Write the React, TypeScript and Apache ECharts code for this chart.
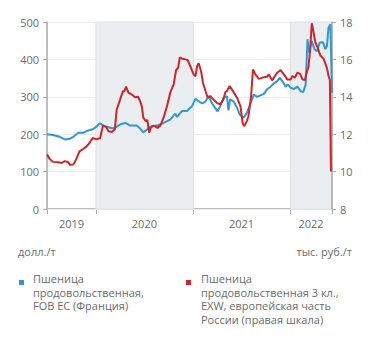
import React, { useEffect, useRef } from 'react';
import * as echarts from 'echarts';

// Пшеница продовольственная, FOB ЕС (Франция), долл./т
const blueDates = [
  '2019-07-01', '2019-07-23', '2019-08-18', '2019-09-06', '2019-09-25', '2019-10-08', '2019-10-27',
  '2019-11-15', '2019-12-03', '2019-12-22', '2020-01-04', '2020-01-16', '2020-01-29', '2020-02-11',
  '2020-03-01', '2020-03-12', '2020-03-25', '2020-04-07', '2020-04-23', '2020-05-08', '2020-06-02',
  '2020-06-15', '2020-06-27', '2020-07-10', '2020-07-22', '2020-08-16', '2020-09-11', '2020-10-06',
  '2020-10-25', '2020-11-01', '2020-11-19', '2020-12-08', '2020-12-27', '2021-01-09', '2021-01-21',
  '2021-02-03', '2021-02-16', '2021-02-28', '2021-03-11', '2021-03-23', '2021-04-02', '2021-04-12',
  '2021-04-24', '2021-05-07', '2021-05-13', '2021-05-19', '2021-06-01', '2021-06-14', '2021-06-24',
  '2021-07-09', '2021-07-21', '2021-08-03', '2021-08-16', '2021-08-29', '2021-09-10', '2021-09-23',
  '2021-10-05', '2021-10-18', '2021-10-31', '2021-11-12', '2021-11-22', '2021-12-01', '2021-12-14',
  '2021-12-22', '2022-01-02', '2022-01-14', '2022-01-27', '2022-02-08', '2022-02-18', '2022-02-27',
  '2022-03-06', '2022-03-12', '2022-03-22', '2022-04-01', '2022-04-11', '2022-04-21', '2022-05-03',
  '2022-05-12', '2022-05-18', '2022-05-24', '2022-05-31', '2022-06-06',
];
const blueValues = [
  200, 198, 193, 186, 188, 193, 204,
  204, 210, 214, 221, 229, 223, 220,
  216, 217, 223, 228, 230, 223, 223,
  215, 205, 212, 220, 223, 230, 239,
  255, 246, 262, 262, 275, 295, 288,
  282, 288, 302, 284, 271, 261, 275,
  297, 302, 264, 293, 288, 271, 253,
  244, 257, 280, 306, 300, 304, 308,
  320, 327, 336, 342, 351, 342, 327,
  333, 324, 321, 327, 315, 313, 333,
  454, 418, 449, 427, 422, 445, 446,
  427, 436, 485, 494, 311,
];

// Пшеница продовольственная 3 кл., EXW, европейская часть России, тыс. руб./т
const redDates = [
  '2019-07-01', '2019-07-11', '2019-07-23', '2019-08-12', '2019-08-25', '2019-09-06', '2019-09-19',
  '2019-09-25', '2019-10-08', '2019-10-18', '2019-10-31', '2019-11-15', '2019-11-28', '2019-12-10',
  '2019-12-20', '2020-01-02', '2020-01-17', '2020-01-27', '2020-02-09', '2020-02-17', '2020-03-01',
  '2020-03-12', '2020-03-19', '2020-04-01', '2020-04-11', '2020-04-17', '2020-04-23', '2020-05-02',
  '2020-05-15', '2020-05-27', '2020-06-07', '2020-06-15', '2020-06-21', '2020-06-27', '2020-07-06',
  '2020-07-12', '2020-07-19', '2020-07-25', '2020-08-02', '2020-08-11', '2020-08-19', '2020-08-30',
  '2020-09-11', '2020-09-24', '2020-10-06', '2020-10-19', '2020-10-28', '2020-11-05', '2020-11-11',
  '2020-11-20', '2020-12-02', '2020-12-11', '2021-01-02', '2021-01-09', '2021-01-15', '2021-01-21',
  '2021-01-30', '2021-02-06', '2021-02-16', '2021-02-24', '2021-03-05', '2021-03-17', '2021-03-30',
  '2021-04-12', '2021-04-24', '2021-05-01', '2021-05-07', '2021-05-17', '2021-05-30', '2021-06-14',
  '2021-06-27', '2021-07-05', '2021-07-11', '2021-07-21', '2021-07-27', '2021-08-06', '2021-08-13',
  '2021-08-22', '2021-09-04', '2021-09-23', '2021-10-05', '2021-10-11', '2021-10-24', '2021-11-12',
  '2021-11-25', '2021-12-07', '2021-12-20', '2022-01-02', '2022-01-08', '2022-01-17', '2022-01-27',
  '2022-02-06', '2022-02-15', '2022-02-24', '2022-03-01', '2022-03-10', '2022-03-16', '2022-03-22',
  '2022-03-29', '2022-04-04', '2022-04-13', '2022-04-23', '2022-05-05', '2022-05-18', '2022-05-24',
  '2022-05-29', '2022-06-02',
];
const redValues = [
  10.92, 10.68, 10.52, 10.5, 10.46, 10.56, 10.5,
  10.36, 10.38, 10.64, 11.08, 11.22, 11.36, 11.58,
  11.8, 11.72, 11.8, 12.46, 12.38, 12.16, 12.12,
  12.26, 13.32, 13.86, 14.3, 14.3, 14.54, 14.22,
  14.12, 13.98, 14.0, 13.76, 13.5, 12.88, 12.7,
  12.76, 12.08, 12.34, 12.46, 12.42, 12.34, 12.46,
  12.88, 13.5, 14.22, 14.66, 15.42, 15.56, 16.1,
  16.04, 16.0, 15.96, 15.2, 15.1, 15.64, 15.79,
  15.38, 14.75, 14.3, 13.95, 14.04, 13.86, 13.68,
  13.59, 13.86, 14.25, 14.3, 14.57, 14.3, 13.95,
  13.5, 12.6, 12.43, 12.7, 12.96, 14.04, 15.46,
  15.2, 14.96, 15.05, 15.07, 15.2, 14.88, 15.29,
  15.43, 15.2, 14.93, 14.93, 15.11, 15.02, 15.29,
  15.23, 14.93, 14.89, 15.2, 15.64, 16.54, 17.93,
  17.43, 16.93, 16.63, 16.21, 16.04, 15.55, 15.11,
  14.9, 10.0,
];

const axisStart = '2019-07-01';
const axisEnd = '2022-06-06';
const yearLabels = ['2019', '2020', '2021', '2022'];
const yearLabelDates = ['2019-10-01', '2020-07-01', '2021-07-01', '2022-03-19'];
const yearTickDates = ['2019-07-01', '2020-01-01', '2021-01-01', '2022-01-01', '2022-06-06'];
const shadedPeriods = [
  ['2020-01-01', '2021-01-01'],
  ['2022-01-01', '2022-06-06'],
];

const leftUnit = 'долл./т';
const rightUnit = 'тыс. руб./т';
const blueName = ['Пшеница', 'продовольственная,', 'FOB ЕС (Франция)'];
const redName = ['Пшеница', 'продовольственная 3 кл.,', 'EXW, европейская часть', 'России (правая шкала)'];

const BLUE = '#2e98d3';
const RED = '#d2232a';
const FONT = '"Open Sans", sans-serif';
const TEXT = '#6b6b6b';

const ts = (d: string) => new Date(d + 'T00:00:00Z').getTime();

export default function App() {
  const ref = useRef<HTMLDivElement>(null);

  useEffect(() => {
    document.body.style.margin = '0';
    if (!ref.current) return;
    const chart = echarts.init(ref.current, null, { renderer: 'svg' });

    const labelTs = yearLabelDates.map(ts);
    const yearOf = (v: number) => {
      let best = 0;
      let bd = Infinity;
      labelTs.forEach((t, i) => {
        const d = Math.abs(t - v);
        if (d < bd) { bd = d; best = i; }
      });
      return yearLabels[best];
    };

    const legendText = (lines: string[], x: number, y0: number) =>
      lines.map((l, i) => ({
        type: 'text',
        left: x,
        top: y0 + i * 13.5,
        style: { text: l, fill: TEXT, font: `11px ${FONT}` },
      }));

    chart.setOption({
      animation: false,
      backgroundColor: '#ffffff',
      grid: { left: 47, right: 39, top: 22, bottom: 134, containLabel: false },
      xAxis: {
        type: 'value',
        min: ts(axisStart),
        max: ts(axisEnd),
        axisLine: { lineStyle: { color: '#a9a9a9', width: 1.5 } },
        axisTick: {
          customValues: yearTickDates.map(ts),
          length: 5,
          lineStyle: { color: '#a9a9a9', width: 1 },
        },
        axisLabel: {
          customValues: labelTs,
          formatter: (v: number) => yearOf(v),
          color: TEXT,
          fontFamily: FONT,
          fontSize: 11,
          margin: 9,
        },
        splitLine: { show: false },
      },
      yAxis: [
        {
          type: 'value',
          min: 0,
          max: 500,
          interval: 100,
          z: 1,
          axisLine: { show: true, lineStyle: { color: '#a9a9a9', width: 1.5 } },
          axisTick: { show: true, length: 4, lineStyle: { color: '#a9a9a9' } },
          axisLabel: { color: TEXT, fontFamily: FONT, fontSize: 11, margin: 8 },
          splitLine: { show: true, lineStyle: { color: '#ebebeb', width: 1 } },
        },
        {
          type: 'value',
          min: 8,
          max: 18,
          interval: 2,
          z: 1,
          position: 'right',
          axisLine: { show: true, lineStyle: { color: '#a9a9a9', width: 1.5 } },
          axisTick: { show: true, length: 4, lineStyle: { color: '#a9a9a9' } },
          axisLabel: { color: TEXT, fontFamily: FONT, fontSize: 11, margin: 8 },
          splitLine: { show: false },
        },
      ],
      series: [
        {
          type: 'line',
          name: 'shade',
          data: [],
          z: 0,
          silent: true,
          markArea: {
            silent: true,
            itemStyle: { color: '#eaeef0', borderColor: '#dde2e5', borderWidth: 1 },
            data: shadedPeriods.map(([a, b]) => [{ xAxis: ts(a) }, { xAxis: ts(b) }]),
          },
        },
        {
          type: 'line',
          name: blueName.join(' '),
          yAxisIndex: 0,
          z: 3,
          showSymbol: false,
          lineStyle: { color: BLUE, width: 2 },
          itemStyle: { color: BLUE },
          data: blueDates.map((d, i) => [ts(d), blueValues[i]]),
        },
        {
          type: 'line',
          name: redName.join(' '),
          yAxisIndex: 1,
          z: 4,
          showSymbol: false,
          lineStyle: { color: RED, width: 2 },
          itemStyle: { color: RED },
          data: redDates.map((d, i) => [ts(d), redValues[i]]),
        },
      ],
      graphic: [
        {
          type: 'text',
          left: 18,
          top: 246,
          style: { text: leftUnit, fill: TEXT, font: `11px ${FONT}` },
        },
        {
          type: 'text',
          right: 19,
          top: 246,
          style: { text: rightUnit, fill: TEXT, font: `11px ${FONT}` },
        },
        { type: 'rect', left: 19, top: 280, shape: { width: 5, height: 5 }, style: { fill: BLUE } },
        ...legendText(blueName, 33, 273),
        { type: 'rect', left: 186, top: 280, shape: { width: 5, height: 5 }, style: { fill: RED } },
        ...legendText(redName, 201, 273),
      ],
    });

    return () => chart.dispose();
  }, []);

  return <div ref={ref} style={{ width: 371, height: 343 }} />;
}
